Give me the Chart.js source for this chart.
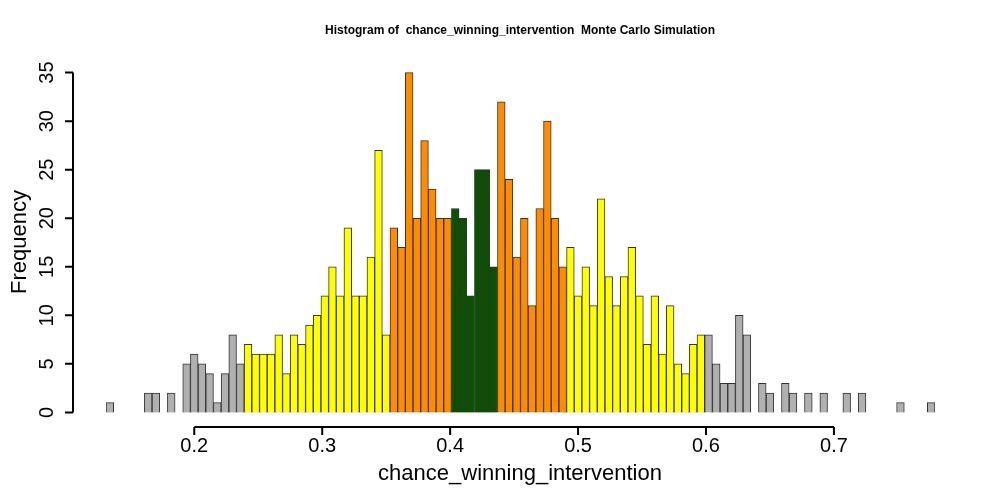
<!DOCTYPE html>
<html>
<head>
<meta charset="utf-8">
<script src="https://cdn.jsdelivr.net/npm/chart.js@4/dist/chart.umd.min.js"></script>
<style>
  html, body { margin: 0; background: #fff; }
  #wrap { width: 1000px; height: 500px; }
</style>
</head>
<body>
<div id="wrap"><canvas id="hist"></canvas></div>
<script>
// bin start = 0.185, width 0.005
const binStart = 0.185;
const binWidth = 0.005;
const counts = [
  1, 0, 0, 0, 0, 2, 2, 0, 2, 0, 5, 6, 5, 4, 1, 4, 8, 5,
  7, 6, 6, 6, 8, 4, 8, 7, 9, 10, 12, 15, 12, 19, 12, 12, 16, 27, 8,
  19, 17, 35, 20, 28, 23, 20, 20,
  21, 20, 12, 25, 25, 15,
  32, 24, 16, 20, 11, 21, 30, 20, 15,
  17, 12, 15, 11, 22, 14, 11, 14, 17, 12, 7, 12, 6, 11, 5, 4, 7, 8,
  8, 5, 3, 3, 10, 8, 0, 3, 2, 0, 3, 2, 0, 2, 0, 2, 0, 0, 2, 0, 2,
  0, 0, 0, 0, 1, 0, 0, 0, 1
];
// colour band per bin: g = grey, y = yellow, o = orange, d = dark green
const bands = [
  [18, "g"], [19, "y"], [8, "o"], [6, "d"], [9, "o"], [18, "y"], [30, "g"]
];
const bandColours = { g: "#b0b0b0", y: "#ffff00", o: "#ff8c00", d: "#0a5200" };
const xTicks = [0.2, 0.3, 0.4, 0.5, 0.6, 0.7];
const yTicks = [0, 5, 10, 15, 20, 25, 30, 35];

const colours = [];
bands.forEach(([n, c]) => { for (let i = 0; i < n; i++) colours.push(bandColours[c]); });
const labels = counts.map((_, i) => (binStart + i * binWidth).toFixed(3));

const rAxes = {
  id: "rAxes",
  afterDraw(chart) {
    const ctx = chart.ctx;
    const xs = chart.scales.xv;
    const ys = chart.scales.y;
    ctx.save();
    ctx.strokeStyle = "#000";
    ctx.fillStyle = "#000";
    ctx.lineWidth = 2;
    // y axis
    const ax = 73;
    ctx.beginPath();
    ctx.moveTo(ax, ys.getPixelForValue(0));
    ctx.lineTo(ax, ys.getPixelForValue(35));
    yTicks.forEach((t) => {
      const py = ys.getPixelForValue(t);
      ctx.moveTo(ax, py);
      ctx.lineTo(ax - 8, py);
    });
    ctx.stroke();
    ctx.font = "20px 'Liberation Sans', Arial, sans-serif";
    ctx.textAlign = "center";
    ctx.textBaseline = "middle";
    yTicks.forEach((t) => {
      ctx.save();
      ctx.translate(47, ys.getPixelForValue(t));
      ctx.rotate(-Math.PI / 2);
      ctx.fillText(String(t), 0, 0);
      ctx.restore();
    });
    ctx.save();
    ctx.translate(20, 242);
    ctx.rotate(-Math.PI / 2);
    ctx.font = "22px 'Liberation Sans', Arial, sans-serif";
    ctx.fillText("Frequency", 0, 0);
    ctx.restore();
    // x axis
    const ay = 427;
    ctx.beginPath();
    ctx.moveTo(xs.getPixelForValue(0.2), ay);
    ctx.lineTo(xs.getPixelForValue(0.7), ay);
    xTicks.forEach((t) => {
      const px = xs.getPixelForValue(t);
      ctx.moveTo(px, ay);
      ctx.lineTo(px, ay + 8);
    });
    ctx.stroke();
    xTicks.forEach((t) => ctx.fillText(t.toFixed(1), xs.getPixelForValue(t), 446));
    ctx.font = "22px 'Liberation Sans', Arial, sans-serif";
    ctx.fillText("chance_winning_intervention", 520, 474);
    ctx.font = "bold 12px 'Liberation Sans', Arial, sans-serif";
    ctx.fillText("Histogram of  chance_winning_intervention  Monte Carlo Simulation", 520, 31);
    ctx.restore();
  }
};

new Chart(document.getElementById("hist"), {
  type: "bar",
  data: {
    labels,
    datasets: [{
      data: counts,
      backgroundColor: colours,
      borderColor: "#333333",
      borderWidth: 1,
      categoryPercentage: 1,
      barPercentage: 1,
    }],
  },
  options: {
    responsive: true,
    maintainAspectRatio: false,
    animation: false,
    layout: { padding: { left: 106, right: 65, top: 59, bottom: 74 } },
    plugins: { legend: { display: false }, tooltip: { enabled: false } },
    scales: {
      x: { display: false },
      xv: {
        type: "linear",
        display: false,
        min: binStart,
        max: binStart + counts.length * binWidth,
      },
      y: { display: false, min: -1.4, max: 36.4 },
    },
  },
  plugins: [rAxes],
});
</script>
</body>
</html>
